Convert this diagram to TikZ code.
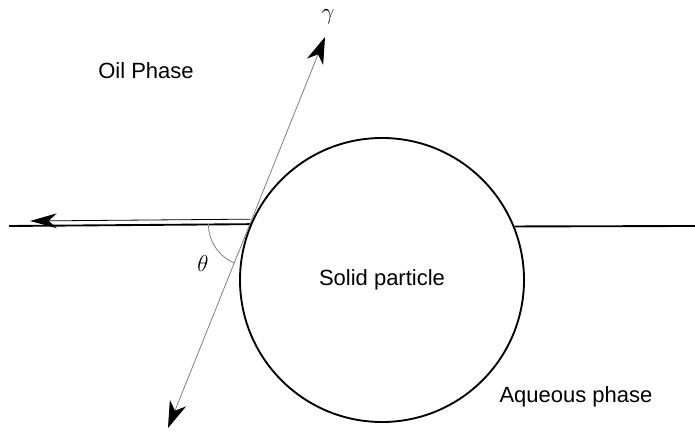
\documentclass[tikz,border=0pt]{standalone}
\usepackage{fontspec}
\setmainfont{Liberation Sans}
\usetikzlibrary{arrows.meta}
\tikzset{
  head/.tip={Stealth[black,length=20pt,width=13pt,inset=6pt]},
  interface/.style={line width=1.4pt},
  tangent/.style={gray,line width=0.6pt,head-head}
}
\begin{document}
\begin{tikzpicture}[x=0.75pt,y=0.75pt,font=\fontsize{16.5}{19}\selectfont]
\useasboundingbox (0,0) rectangle (695,432);
\node[circle,draw,line width=1.4pt,inner sep=0pt,minimum size=213pt] (particle) at (382,152) {Solid particle};
\coordinate (left) at (9,206);
\coordinate (right) at (695,206);
\coordinate (tip) at (30,211);
\coordinate (gtop) at (325,395);
\coordinate (gbot) at (168,4);
\draw[interface] (left) -- (particle.157.6);
\draw[interface] (particle.22.4) -- (right);
\draw[line width=0.6pt,-{Stealth[length=20pt,width=11pt,inset=6pt]}] ([yshift=3.75pt]particle.157.6) -- (tip);
\draw[tangent] (gbot) -- (gtop);
\draw[gray,line width=0.6pt] (particle.157.6) ++(180:31.5pt) arc[start angle=180,end angle=247.6,radius=31.5pt];
\node (oil) at (146,361) {Oil Phase};
\node (aqueous) at (576,35) {Aqueous phase};
\node (gamma) at (328,415) {$\gamma$};
\node (theta) at (203,169) {$\theta$};
\end{tikzpicture}
\end{document}
